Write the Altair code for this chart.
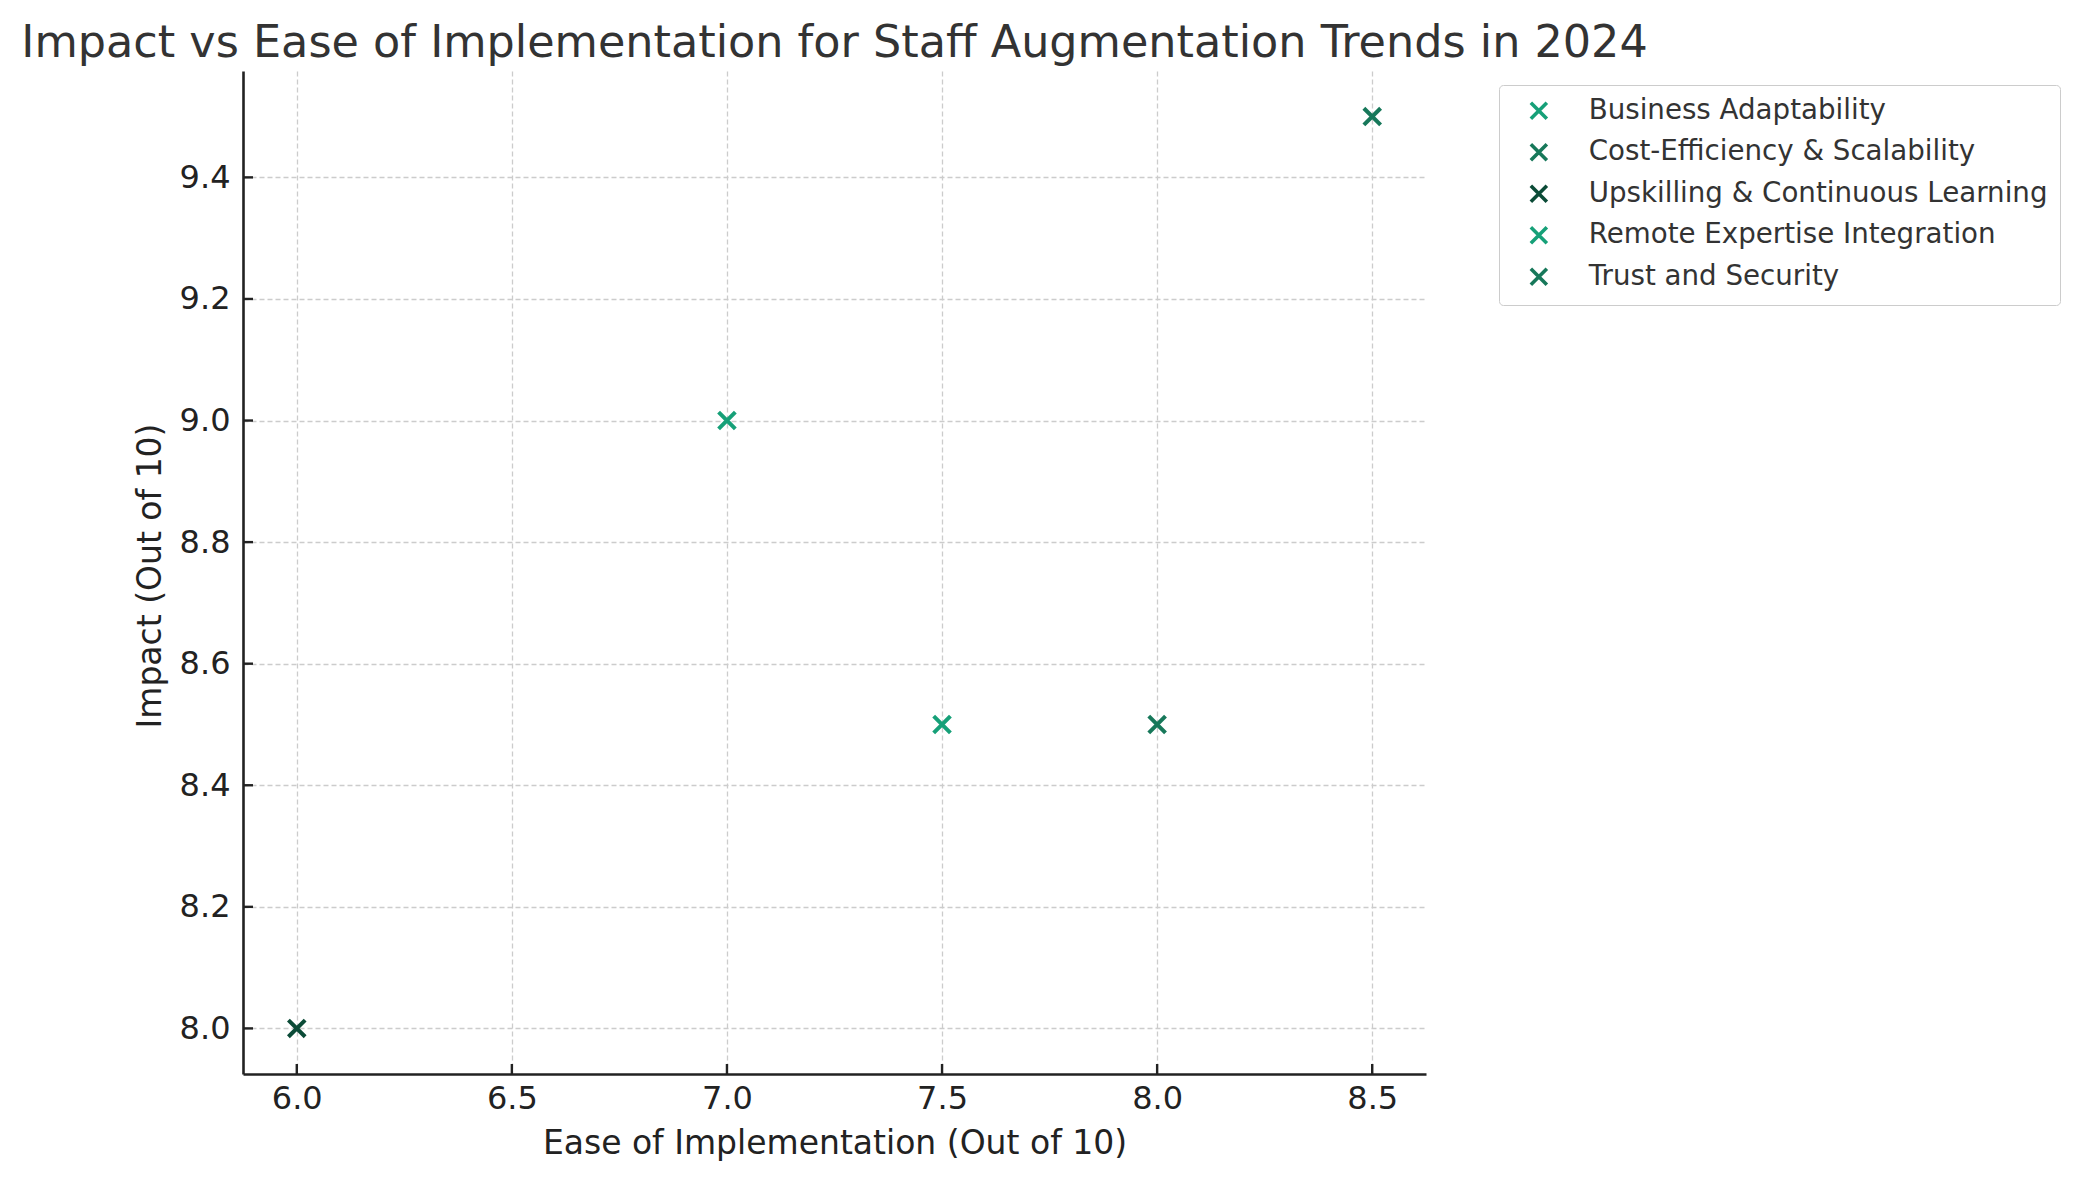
import altair as alt
import pandas as pd

# ---- data ----
trends = [
    "Business Adaptability",
    "Cost-Efficiency & Scalability",
    "Upskilling & Continuous Learning",
    "Remote Expertise Integration",
    "Trust and Security",
]
ease = [7.0, 8.5, 6.0, 7.5, 8.0]
impact = [9.0, 9.5, 8.0, 8.5, 8.5]
colors = ["#16a078", "#17785a", "#0b4b37", "#16a078", "#17785a"]

x_ticks = [6.0, 6.5, 7.0, 7.5, 8.0, 8.5]
y_ticks = [8.0, 8.2, 8.4, 8.6, 8.8, 9.0, 9.2, 9.4]

df = pd.DataFrame({"Trend": trends, "Ease": ease, "Impact": impact})
xt = pd.DataFrame({"v": x_ticks})
yt = pd.DataFrame({"v": y_ticks})

FONT = "DejaVu Sans"
W, H = 1183, 1003
XPATH = "M-1,-1L1,1M1,-1L-1,1"

xscale = alt.Scale(domain=[5.875, 8.625], nice=False, zero=False)
yscale = alt.Scale(domain=[7.925, 9.575], nice=False, zero=False)

points = alt.Chart(df).mark_point(
    shape=XPATH, filled=False, size=280, strokeWidth=4, opacity=1
).encode(
    x=alt.X("Ease:Q", scale=xscale,
            axis=alt.Axis(values=x_ticks, format=".1f",
                          title="Ease of Implementation (Out of 10)",
                          titleX=W / 2, titleY=79, titleBaseline="alphabetic",
                          labelPadding=9)),
    y=alt.Y("Impact:Q", scale=yscale,
            axis=alt.Axis(values=y_ticks, format=".1f",
                          title="Impact (Out of 10)",
                          titleX=-83, titleY=H / 2 + 3, titleAngle=270,
                          titleBaseline="alphabetic",
                          labelPadding=13)),
    color=alt.Color("Trend:N",
                    scale=alt.Scale(domain=trends, range=colors),
                    sort=trends,
                    legend=alt.Legend(title=None, orient="none",
                                      legendX=1256, legendY=14,
                                      symbolType=XPATH, symbolSize=256,
                                      symbolStrokeWidth=3.6, symbolFillColor="transparent",
                                      symbolOffset=14, labelOffset=36,
                                      labelFontSize=27.7, labelFont=FONT,
                                      labelColor="#333333", labelLimit=0,
                                      rowPadding=9.5, padding=12,
                                      strokeColor="#cccccc", fillColor="#ffffff",
                                      cornerRadius=4)),
)

xtick_rules = alt.Chart(xt).mark_rule(color="#222222", strokeWidth=2.4).encode(
    x=alt.X("v:Q", scale=xscale),
    y=alt.value(H), y2=alt.value(H - 10),
)
ytick_rules = alt.Chart(yt).mark_rule(color="#222222", strokeWidth=2.4).encode(
    y=alt.Y("v:Q", scale=yscale),
    x=alt.value(0), x2=alt.value(10),
)

chart = alt.layer(points, xtick_rules, ytick_rules).properties(
    width=W, height=H,
    title=alt.TitleParams(
        "Impact vs Ease of Implementation for Staff Augmentation Trends in 2024",
        fontSize=44.5, font=FONT, fontWeight="normal", color="#333333",
        anchor="middle", frame="group", baseline="alphabetic", offset=16, dy=46,
    ),
    autosize=alt.AutoSizeParams(type="none"),
    padding={"left": 235, "top": 63, "right": 642, "bottom": 95},
).configure_view(
    stroke=None
).configure_axis(
    labelFont=FONT, titleFont=FONT, labelFontSize=32, titleFontSize=33,
    labelColor="#222222", titleColor="#222222", titleFontWeight="normal",
    domainColor="#222222", domainWidth=2.6, tickSize=0,
    grid=True, gridColor="#cccccc", gridDash=[5, 3], gridWidth=1.3,
)

chart.save("out.html", embed_options={"renderer": "svg", "actions": False})
